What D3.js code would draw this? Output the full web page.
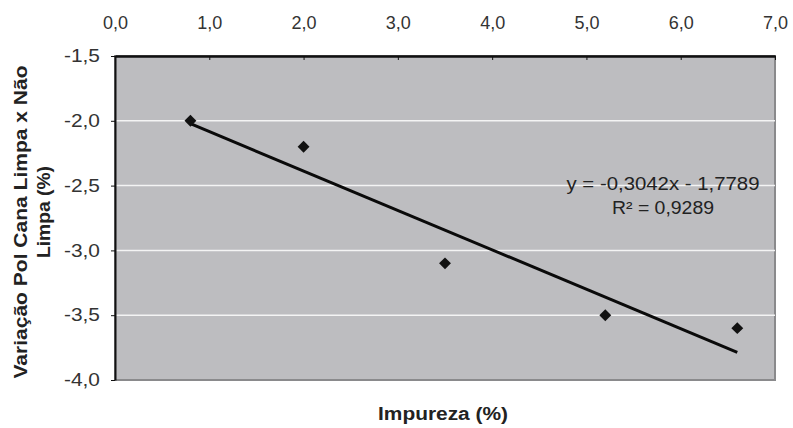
<!DOCTYPE html>
<html>
<head>
<meta charset="utf-8">
<script src="https://cdn.jsdelivr.net/npm/d3@7"></script>
<style>
  body { margin: 0; background: #fff; }
  svg { display: block; font-family: Arial, "Liberation Sans", sans-serif; }
</style>
</head>
<body>
<div id="chart"></div>
<script>
const impureza = [0.8, 2.0, 3.5, 5.2, 6.6]
const variacao = [-2.0, -2.2, -3.1, -3.5, -3.6]
const xTicks = [0, 1, 2, 3, 4, 5, 6, 7]
const yTicks = [-1.5, -2.0, -2.5, -3.0, -3.5, -4.0]
const slope = -0.3042
const intercept = -1.7789
const eqLines = ["y = -0,3042x - 1,7789", "R² = 0,9289"]

const W = 793, H = 428
const pLeft = 115, pRight = 775, pTop = 56, pBottom = 380

let svg = d3.select("#chart").append("svg").attr("width", W).attr("height", H)

const x = d3.scaleLinear().domain([0, 7]).range([pLeft, pRight])
const y = d3.scaleLinear().domain([-4, -1.5]).range([pBottom, pTop])
const fmt = d => d.toFixed(1).replace(".", ",")

// plot area
svg.append("rect")
   .attr("x", pLeft).attr("y", pTop)
   .attr("width", pRight - pLeft).attr("height", pBottom - pTop)
   .attr("fill", "#bdbdc0")
   .attr("stroke", "#8a8a8c").attr("stroke-width", 2)

// gridlines
svg.append("g").selectAll("line")
   .data(yTicks.slice(1, -1))
   .enter().append("line")
   .attr("x1", pLeft).attr("x2", pRight)
   .attr("y1", d => y(d)).attr("y2", d => y(d))
   .attr("stroke", "#f4f4f4").attr("stroke-width", 1.5)

// top axis
let xAxis = d3.axisTop(x).tickValues(xTicks).tickFormat(fmt).tickSizeInner(-4).tickSizeOuter(0).tickPadding(27)
let gx = svg.append("g").attr("transform", `translate(0,${pTop})`).call(xAxis)
gx.select(".domain").attr("stroke", "#111").attr("stroke-width", 2.5)
gx.selectAll(".tick line").attr("stroke", "#111")
gx.selectAll(".tick text").attr("font-size", 18).attr("fill", "#333")

// left axis
let yAxis = d3.axisLeft(y).tickValues(yTicks).tickFormat(fmt).tickSizeInner(4).tickSizeOuter(0).tickPadding(11)
let gy = svg.append("g").attr("transform", `translate(${pLeft},0)`).call(yAxis)
gy.select(".domain").attr("stroke", "#111").attr("stroke-width", 2)
gy.selectAll(".tick line").attr("stroke", "#111")
gy.selectAll(".tick text").attr("font-size", 18).attr("fill", "#333")
   .attr("textLength", 36).attr("lengthAdjust", "spacingAndGlyphs")

// trendline
const x0 = d3.min(impureza), x1 = d3.max(impureza)
svg.append("line")
   .attr("x1", x(x0)).attr("y1", y(slope * x0 + intercept))
   .attr("x2", x(x1)).attr("y2", y(slope * x1 + intercept))
   .attr("stroke", "#0a0a0a").attr("stroke-width", 3)

// points
svg.append("g").selectAll("path")
   .data(impureza)
   .enter().append("path")
   .attr("d", d3.symbol().type(d3.symbolDiamond2).size(90))
   .attr("transform", (d, i) => `translate(${x(d)},${y(variacao[i])})`)
   .attr("fill", "#111")

// equation
svg.append("g").selectAll("text")
   .data(eqLines)
   .enter().append("text")
   .attr("x", 663)
   .attr("y", (d, i) => 190 + i * 24)
   .attr("text-anchor", "middle")
   .attr("font-size", 18).attr("fill", "#222")
   .attr("textLength", (d, i) => i === 0 ? 193 : 102)
   .attr("lengthAdjust", "spacingAndGlyphs")
   .text(d => d)

// axis titles
svg.append("text")
   .attr("x", 443).attr("y", 420)
   .attr("text-anchor", "middle")
   .attr("font-size", 18).attr("font-weight", "bold").attr("fill", "#222")
   .attr("textLength", 130).attr("lengthAdjust", "spacingAndGlyphs")
   .text("Impureza (%)")

let yt = svg.append("g").attr("transform", "translate(0,217) rotate(-90)")
yt.append("text").attr("x", -5).attr("y", 27)
   .attr("text-anchor", "middle")
   .attr("font-size", 18).attr("font-weight", "bold").attr("fill", "#222")
   .attr("textLength", 313).attr("lengthAdjust", "spacingAndGlyphs")
   .text("Variação Pol Cana Limpa x Não")
yt.append("text").attr("x", 5).attr("y", 50)
   .attr("text-anchor", "middle")
   .attr("font-size", 18).attr("font-weight", "bold").attr("fill", "#222")
   .attr("textLength", 92).attr("lengthAdjust", "spacingAndGlyphs")
   .text("Limpa (%)")
</script>
</body>
</html>
